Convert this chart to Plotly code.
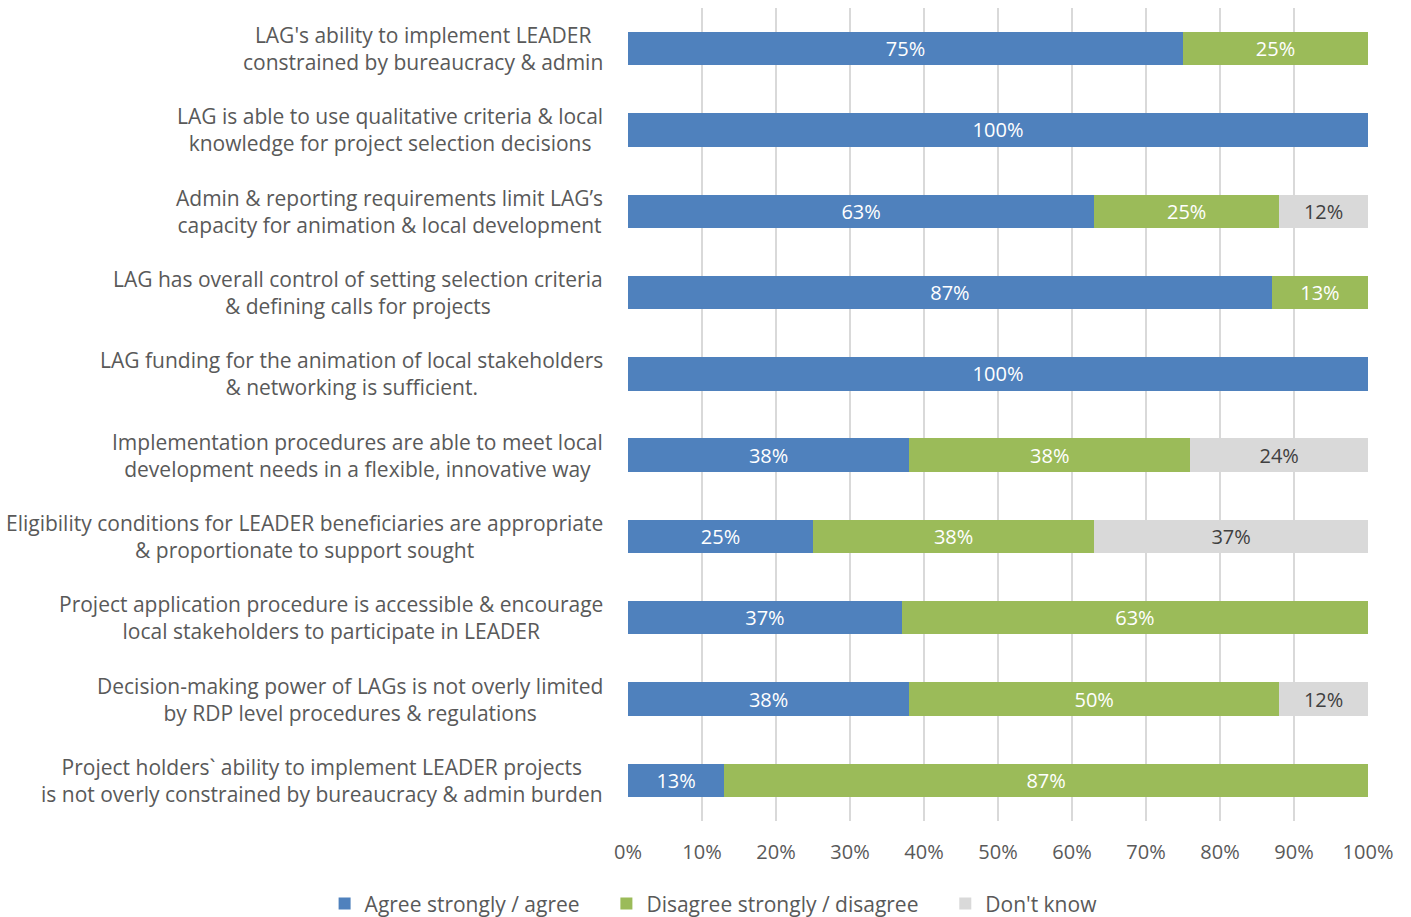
import plotly.graph_objects as go

categories = [
    "LAG's ability to implement LEADER<br>constrained by bureaucracy & admin",
    "LAG is able to use qualitative criteria & local<br>knowledge for project selection decisions",
    "Admin & reporting requirements limit LAG’s<br>capacity for animation & local development",
    "LAG has overall control of setting selection criteria<br>& defining calls for projects",
    "LAG funding for the animation of local stakeholders<br>& networking is sufficient.",
    "Implementation procedures are able to meet local<br>development needs in a flexible, innovative way",
    "Eligibility conditions for LEADER beneficiaries are appropriate<br>& proportionate to support sought",
    "Project application procedure is accessible & encourage<br>local stakeholders to participate in LEADER",
    "Decision-making power of LAGs is not overly limited<br>by RDP level procedures & regulations",
    "Project holders` ability to implement LEADER projects<br>is not overly constrained by bureaucracy & admin burden",
]
agree = [75, 100, 63, 87, 100, 38, 25, 37, 38, 13]
disagree = [25, 0, 25, 13, 0, 38, 38, 63, 50, 87]
dont_know = [0, 0, 12, 0, 0, 24, 37, 0, 12, 0]

series = [
    ("Agree strongly / agree\u00a0\u00a0\u00a0\u00a0", agree, "#4F81BD", "white"),
    ("Disagree strongly / disagree\u00a0\u00a0\u00a0\u00a0", disagree, "#9BBB59", "white"),
    ("Don't know", dont_know, "#D9D9D9", "#404040"),
]

FONT = "Open Sans"
fig = go.Figure()
for name, vals, color, tcolor in series:
    fig.add_trace(go.Bar(
        name=name, y=categories, x=[v / 100 for v in vals], orientation="h",
        marker=dict(color=color, line=dict(width=0)),
        text=[f"{v}%" if v else "" for v in vals],
        textposition="inside", insidetextanchor="middle",
        textfont=dict(color=tcolor, size=20, family=FONT),
        hoverinfo="skip",
    ))

for c in categories:
    fig.add_annotation(
        text=c, xref="paper", yref="y", x=-0.031, y=c,
        xanchor="right", yanchor="middle", align="center", showarrow=False,
        font=dict(size=21, color="#595959", family=FONT),
    )

fig.update_layout(
    barmode="stack", bargap=0.59,
    width=1411, height=917,
    margin=dict(l=628, r=43, t=8, b=96, autoexpand=False),
    paper_bgcolor="white", plot_bgcolor="white",
    font=dict(family=FONT, color="#595959", size=20),
    uniformtext=dict(mode=False),
    xaxis=dict(range=[0, 1], tickformat=".0%", dtick=0.1, tick0=0,
               showgrid=True, gridcolor="#D9D9D9", gridwidth=2,
               zeroline=False, showline=False, ticklabelstandoff=17,
               tickfont=dict(size=20, color="#595959", family=FONT)),
    yaxis=dict(autorange="reversed", showticklabels=False, showgrid=False,
               zeroline=False, showline=False),
    legend=dict(orientation="h", xref="paper", yref="paper",
                x=-0.41, xanchor="left", y=-0.102, yanchor="middle",
                traceorder="normal",
                font=dict(size=21, color="#595959", family=FONT),
                itemwidth=30, tracegroupgap=0),
    showlegend=True,
)

fig.write_html("out.html")
